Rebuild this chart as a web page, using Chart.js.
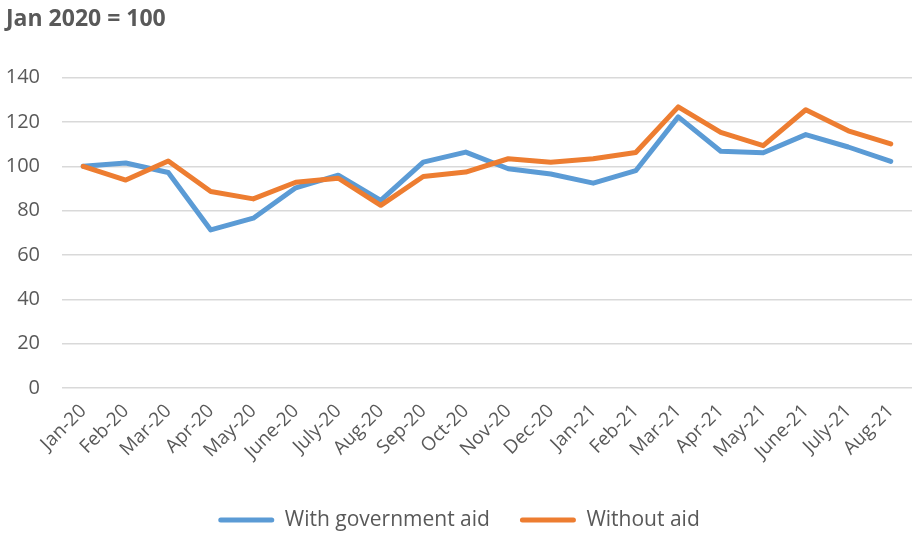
<!DOCTYPE html>
<html>
<head>
<meta charset="utf-8">
<script src="https://cdn.jsdelivr.net/npm/chart.js@4"></script>
<style>
  html, body { margin: 0; padding: 0; background: #ffffff; }
  #wrap { width: 912px; height: 534px; position: relative; }
</style>
</head>
<body>
<div id="wrap"><canvas id="c" width="912" height="534"></canvas></div>
<script>
const categories = ["Jan-20","Feb-20","Mar-20","Apr-20","May-20","June-20","July-20","Aug-20","Sep-20","Oct-20","Nov-20","Dec-20","Jan-21","Feb-21","Mar-21","Apr-21","May-21","June-21","July-21","Aug-21"];
const withAid =    [100, 101.5, 97.2, 71.3, 76.6, 90.3, 96.0, 84.6, 101.9, 106.4, 98.9, 96.5, 92.4, 98.0, 122.3, 106.8, 106.1, 114.3, 108.7, 102.2];
const withoutAid = [100, 93.8, 102.4, 88.6, 85.3, 92.8, 94.6, 82.4, 95.4, 97.4, 103.4, 101.8, 103.4, 106.2, 126.8, 115.3, 109.3, 125.5, 116.0, 110.1];
const yTicks = [0, 20, 40, 60, 80, 100, 120, 140];
const titleText = "Jan 2020 = 100";
const seriesNames = ["With government aid", "Without aid"];

const FONT = "'Open Sans', sans-serif";
const TEXT = "#595959";
const BLUE = "#5B9BD5";
const ORANGE = "#ED7D31";

new Chart(document.getElementById('c'), {
  type: 'line',
  data: {
    labels: categories,
    datasets: [
      { label: seriesNames[0], data: withAid, borderColor: BLUE, backgroundColor: BLUE, order: 1 },
      { label: seriesNames[1], data: withoutAid, borderColor: ORANGE, backgroundColor: ORANGE, order: 0 }
    ]
  },
  options: {
    responsive: false,
    animation: false,
    devicePixelRatio: 1,
    layout: { padding: { left: 6, right: 0, top: 0, bottom: 0 } },
    elements: {
      line: { borderWidth: 5, tension: 0, borderCapStyle: 'round', borderJoinStyle: 'round', fill: false },
      point: { radius: 0, hoverRadius: 0 }
    },
    plugins: {
      tooltip: { enabled: false },
      title: {
        display: true,
        text: titleText,
        align: 'start',
        color: TEXT,
        font: { family: FONT, size: 23, weight: 'bold', lineHeight: 1.2 },
        padding: { top: 6, bottom: 44 }
      },
      legend: {
        position: 'bottom',
        maxHeight: 54.5,
        labels: {
          color: TEXT,
          font: { family: FONT, size: 21 },
          boxWidth: 56,
          boxHeight: 5,
          padding: 30,
          sort: (a, b) => a.datasetIndex - b.datasetIndex,
          generateLabels: (chart) => {
            const items = Chart.defaults.plugins.legend.labels.generateLabels(chart);
            items.forEach(it => { it.lineWidth = 0; it.borderRadius = 2.5; });
            return items;
          },
          useBorderRadius: true,
          borderRadius: 2.5
        }
      }
    },
    scales: {
      x: {
        type: 'category',
        offset: true,
        grid: { display: false },
        border: { display: false },
        ticks: {
          color: TEXT,
          font: { family: FONT, size: 19 },
          minRotation: 45,
          maxRotation: 45,
          autoSkip: false,
          padding: 4
        },
        afterFit: (scale) => { scale.height = 91.5; }
      },
      y: {
        min: 0,
        max: 140,
        afterBuildTicks: (scale) => { scale.ticks = yTicks.map(v => ({ value: v })); },
        grid: { color: '#D9D9D9', lineWidth: 1.5, drawTicks: false },
        border: { display: false },
        ticks: {
          color: TEXT,
          font: { family: FONT, size: 20 },
          padding: 22
        },
        afterFit: (scale) => { scale.width = 56; }
      }
    }
  }
});
</script>
</body>
</html>
